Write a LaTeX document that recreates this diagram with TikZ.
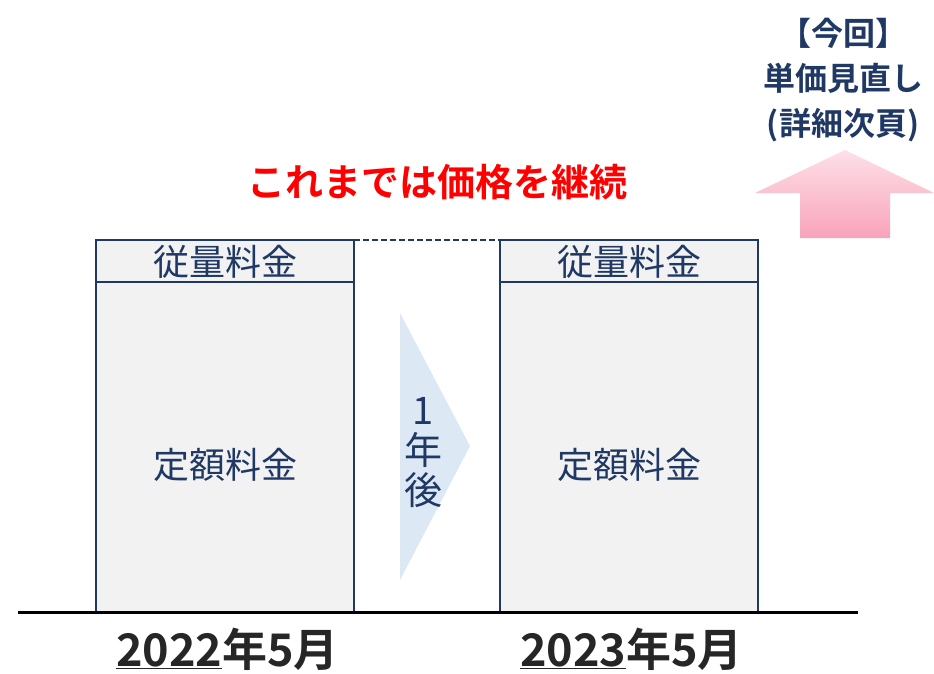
\documentclass[tikz,border=0pt]{standalone}
\usepackage{fontspec}
\setmainfont{Noto Sans CJK JP}
\newfontfamily\jpb{Noto Sans CJK JP Bold}
\usetikzlibrary{positioning}
\definecolor{navy}{HTML}{1F3864}
\definecolor{boxfill}{HTML}{F2F2F2}
\definecolor{tri}{HTML}{DDE8F5}
\definecolor{redt}{HTML}{FF0000}
\definecolor{dgray}{HTML}{262626}
\definecolor{pinkA}{HTML}{FDE0E8}
\definecolor{pinkB}{HTML}{F9A3BA}
\tikzset{
  boxpart/.style={draw=navy, line width=1.5pt, fill=boxfill},
  boxtext/.style={text=navy, font=\fontsize{36}{38}\selectfont, inner sep=0pt},
  yeartext/.style={text=dgray, font=\jpb\fontsize{45}{47}\selectfont, inner sep=0pt},
}
\begin{document}
\begin{tikzpicture}[x=1pt,y=-1pt]
\useasboundingbox (0,0) rectangle (934,673);
% boxes
\draw[boxpart] (96,240) rectangle (354,612);
\draw[boxpart] (96,240) rectangle (354,282);
\draw[boxpart] (500,240) rectangle (758,612);
\draw[boxpart] (500,240) rectangle (758,282);
\coordinate (d1) at (354,240);
\coordinate (d2) at (500,240);
\draw[navy, line width=2.2pt, dash pattern=on 6pt off 3pt] (d1) -- (d2);
\node[boxtext] (h1) at (225,262) {従量料金};
\node[boxtext] (h2) at (629,262) {従量料金};
\node[boxtext] (f1) at (225,465) {定額料金};
\node[boxtext] (f2) at (629,465) {定額料金};
% triangle
\fill[tri] (400,313) -- (470,446) -- (400,580) -- cycle;
\node[boxtext, align=center, font=\fontsize{38}{40}\selectfont] (yr) at (423,453) {1\\年\\後};
% baseline
\coordinate (b1) at (18,612);
\coordinate (b2) at (858,612);
\draw[black, line width=3pt] (b1) -- (b2);
% red text
\node[text=redt, font=\jpb\fontsize{38}{40}\selectfont, inner sep=0pt] (red) at (437,182) {これまでは価格を継続};
% top right
\node[text=navy, font=\jpb\fontsize{32}{45}\selectfont, align=center, inner sep=0pt] (tr) at (843,80) {【今回】\\単価見直し\\(詳細次頁)};
% pink arrow
\shade[top color=pinkA, bottom color=pinkB] (845,150) -- (934,193) -- (890,193) -- (890,238) -- (800,238) -- (800,193) -- (755,193) -- cycle;
% year labels
\node[yeartext, anchor=west] (y1) at (116,649) {\underline{2022}年5月};
\node[yeartext, anchor=west] (y2) at (520,649) {\underline{2023}年5月};
\end{tikzpicture}
\end{document}
